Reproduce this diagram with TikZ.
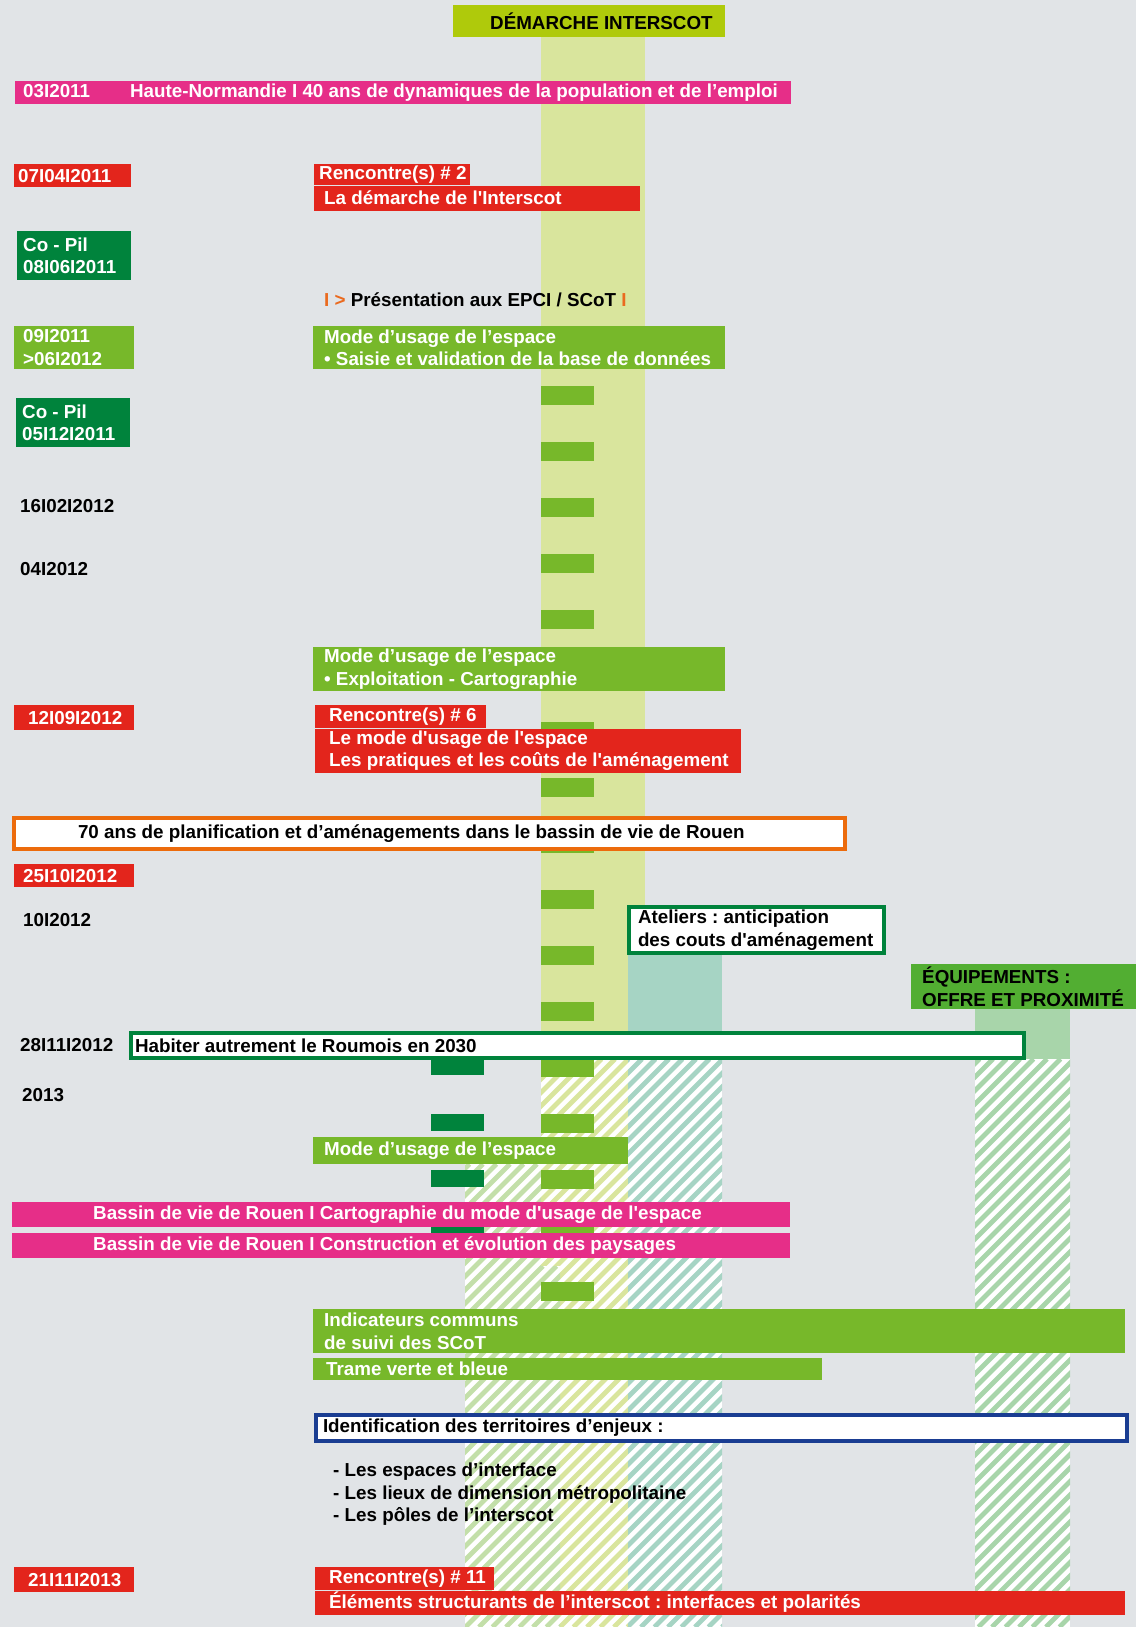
\documentclass[tikz,border=0pt]{standalone}
\usepackage{fontspec}
\setmainfont{Liberation Sans}
\usepackage{xcolor}
\usetikzlibrary{positioning}
\frenchspacing

\definecolor{fond}{HTML}{E1E4E7}
\definecolor{jauneT}{HTML}{AFCA0B}
\definecolor{jauneC}{HTML}{D9E59D}
\definecolor{vertI}{HTML}{77B82A}
\definecolor{vertF}{HTML}{00833C}
\definecolor{vertE}{HTML}{52AE32}
\definecolor{vertC}{HTML}{A8D5AA}
\definecolor{vertH}{HTML}{C3DFA9}
\definecolor{turquoise}{HTML}{A6D4C4}
\definecolor{rougeI}{HTML}{E3251C}
\definecolor{roseI}{HTML}{E62E88}
\definecolor{orangeB}{HTML}{EC6B0C}
\definecolor{orangeT}{HTML}{EA6A1F}
\definecolor{bleuB}{HTML}{1A3D92}

% colonne hachuree : couleur, x1, y1, x2, y2
\newcommand\hachures[5]{%
  \begin{scope}
    \clip (#2,#3) rectangle (#4,#5);
    \fill[white] (#2,#3) rectangle (#4,#5);
    \pgfmathtruncatemacro\ka{(#2+#3)/13.5}
    \pgfmathtruncatemacro\kb{(#4+#5)/13.5+1}
    \foreach \k in {\ka,...,\kb}
      \draw[#1, line width=4.8pt] ({\k*13.5-#5},#5) -- ({\k*13.5-#3},#3);
  \end{scope}}
\newcommand\apo{\textquotesingle}

\begin{document}
\begin{tikzpicture}
      [x=1pt, y=-1pt,
       font=\fontsize{18.8}{22.5}\selectfont\bfseries,
       boite/.style={anchor=north west, inner sep=0pt, align=flush left, text=white},
       marge/.style={execute at begin node={\leftskip=#1pt\relax}},
       rouge/.style={boite, fill=rougeI},
       rose/.style={boite, fill=roseI},
       vert/.style={boite, fill=vertI},
       vertfonce/.style={boite, fill=vertF},
       cadre/.style={boite, fill=white, text=black, line width=4pt},
       date/.style={anchor=west, inner sep=0pt, text=black}]
        \useasboundingbox (0,0) rectangle (1136,1627);
        \fill[fond] (0,0) rectangle (1136,1627);

        % colonnes
        \fill[jauneC] (541,37) rectangle (645,1059);
        \fill[turquoise] (628,953) rectangle (722,1059);
        \fill[vertC] (975,1009) rectangle (1070,1059);
        \hachures{jauneC}{541}{1059}{628}{1627}
        \hachures{turquoise}{628}{1059}{722}{1627}
        \hachures{vertH}{465}{1164}{541}{1627}
        \hachures{vertH}{541}{1266}{560}{1627}
        \hachures{vertC}{975}{1059}{1070}{1627}

        % tirets
        \foreach \y in {386,442,...,1282}
          \fill[vertI] (541,\y) rectangle (594,\y+19);
        \foreach \y in {1058,1114,1170,1226}
          \fill[vertF] (431,\y) rectangle (484,\y+17);

        \node (titre) at (453,5) [boite, fill=jauneT, text=black, marge=37, text width=272, minimum height=32] {DÉMARCHE INTERSCOT};

        \node (haute) at (15,81) [rose, marge=8, text width=776, minimum height=23] {\makebox[107pt][l]{03I2011}Haute-Normandie I 40 ans de dynamiques de la population et de l’emploi};

        \node (d0704) at (14,164) [rouge, marge=4, text width=117, minimum height=23] {07I04I2011};
        \node (renc2) at (314,164) [rouge, marge=5, text width=156, minimum height=21] {Rencontre(s) \# 2};
        \node (renc2b) [rouge, marge=10, text width=326, minimum height=25, below right=0pt and 0pt of renc2.south west] {La démarche de l\apo Interscot};

        \node (copil1) at (17,231) [vertfonce, marge=6, text width=114, minimum height=49] {Co - Pil\\08I06I2011};

        \node (pres) at (324,300) [date] {\textcolor{orangeT}{I >} Présentation aux EPCI / SCoT \textcolor{orangeT}{I}};

        \node (p0911) at (14,326) [vert, marge=9, text width=120, minimum height=43] {09I2011\\>06I2012};
        \node (mode1) at (313,326) [vert, marge=11, text width=412, minimum height=43] {Mode d’usage de l’espace\\• Saisie et validation de la base de données};

        \node (copil2) at (16,398) [vertfonce, marge=6, text width=114, minimum height=49] {Co - Pil\\05I12I2011};
        \node (d1602) at (20,506) [date] {16I02I2012};
        \node (d0412) at (20,569) [date] {04I2012};

        \node (mode2) at (313,647) [vert, marge=11, text width=412, minimum height=44] {Mode d’usage de l’espace\\• Exploitation - Cartographie};

        \node (d1209) at (14,705) [rouge, marge=14, text width=120, minimum height=25] {12I09I2012};
        \node (renc6) at (315,705) [rouge, marge=14, text width=171, minimum height=23] {Rencontre(s) \# 6};
        \node (renc6b) [rouge, marge=14, text width=426, minimum height=44, below right=0pt and 0pt of renc6.south west] {Le mode d\apo usage de l\apo espace\\Les pratiques et les coûts de l\apo aménagement};

        \node (rouen70) at (12,816) [cadre, draw=orangeB, marge=64, text width=831, minimum height=31] {70 ans de planification et d’aménagements dans le bassin de vie de Rouen};

        \node (d2510) at (14,864) [rouge, marge=9, text width=120, minimum height=23] {25I10I2012};
        \node (d1012) at (23,920) [date] {10I2012};

        \node (ateliers) at (627,905) [cadre, draw=vertF, marge=9, text width=255, minimum height=46] {Ateliers : anticipation\\des couts d\apo aménagement};
        \node (equip) at (911,964) [boite, fill=vertE, text=black, marge=11, text width=225, minimum height=45] {ÉQUIPEMENTS :\\OFFRE ET PROXIMITÉ};

        \node (d2811) at (20,1045) [date] {28I11I2012};
        \node (habiter) at (129,1031) [cadre, draw=vertF, marge=4, text width=893, minimum height=25] {Habiter autrement le Roumois en 2030};
        \node (d2013) at (22,1095) [date] {2013};

        \node (mode3) at (313,1137) [vert, marge=11, text width=315, minimum height=27] {Mode d’usage de l’espace};

        \node (bassin1) at (12,1202) [rose, marge=81, text width=778, minimum height=25] {Bassin de vie de Rouen I Cartographie du mode d\apo usage de l\apo espace};
        \node (bassin2) at (12,1233) [rose, marge=81, text width=778, minimum height=25] {Bassin de vie de Rouen I Construction et évolution des paysages};

        \node (indic) at (313,1309) [vert, marge=11, text width=812, minimum height=44] {Indicateurs communs\\de suivi des SCoT};
        \node (trame) at (313,1358) [vert, marge=13, text width=509, minimum height=22] {Trame verte et bleue};

        \node (ident) at (314,1413) [cadre, draw=bleuB, marge=7, text width=811, minimum height=26] {Identification des territoires d’enjeux :};
        \node (liste) at (333,1463) [boite, text=black] {- Les espaces d’interface\\- Les lieux de dimension métropolitaine\\- Les pôles de l’interscot};

        \node (d2111) at (14,1567) [rouge, marge=14, text width=120, minimum height=25] {21I11I2013};
        \node (renc11) at (315,1567) [rouge, marge=14, text width=179, minimum height=23] {Rencontre(s) \# 11};
        \node (renc11b) [rouge, marge=14, text width=810, minimum height=24, below right=0pt and 0pt of renc11.south west] {Éléments structurants de l’interscot : interfaces et polarités};
      \end{tikzpicture}
\end{document}
